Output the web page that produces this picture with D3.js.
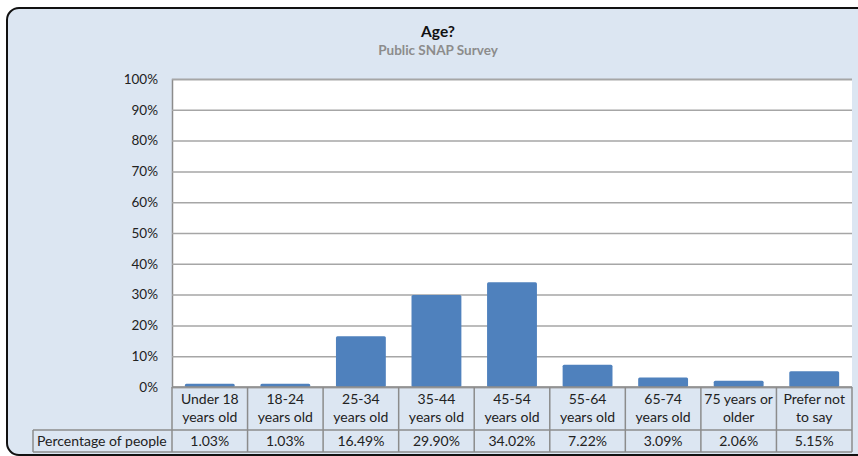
<!DOCTYPE html>
<html><head><meta charset="utf-8">
<script src="https://cdn.jsdelivr.net/npm/d3@7"></script>
<style>body{margin:0;background:#fff;}svg{display:block;}</style>
</head><body>
<script>
const categories = [["Under 18","years old"],["18-24","years old"],["25-34","years old"],["35-44","years old"],["45-54","years old"],["55-64","years old"],["65-74","years old"],["75 years or","older"],["Prefer not","to say"]];
const values = [1.03,1.03,16.49,29.90,34.02,7.22,3.09,2.06,5.15];
const valueLabels = ["1.03%","1.03%","16.49%","29.90%","34.02%","7.22%","3.09%","2.06%","5.15%"];
const yTicks = [0,10,20,30,40,50,60,70,80,90,100];
const seriesName = "Percentage of people";
const title = "Age?";
const subtitle = "Public SNAP Survey";

(function(){
const W = 858, H = 456;
const font = "Lato, 'Liberation Sans', sans-serif";
const svg = d3.select("body").append("svg").attr("width", W).attr("height", H);

svg.append("rect").attr("x",7).attr("y",8).attr("width",880).attr("height",447)
  .attr("rx",12).attr("fill","#dce6f2").attr("stroke","#111").attr("stroke-width",2);

svg.append("text").attr("x",438).attr("y",37).attr("text-anchor","middle")
  .attr("font-family",font).attr("font-weight","bold").attr("font-size",15.5).attr("fill","#111").text(title);
svg.append("text").attr("x",438).attr("y",55).attr("text-anchor","middle")
  .attr("font-family",font).attr("font-weight","bold").attr("font-size",13.5).attr("fill","#8c8c8c").text(subtitle);

const pl = 172, pr = 852, pt = 79, pb = 387;
const x = d3.scaleBand().domain(d3.range(categories.length)).range([pl,pr]).paddingInner(0.34).paddingOuter(0.17);
const xc = d3.scaleBand().domain(d3.range(categories.length)).range([pl,pr]);
const y = d3.scaleLinear().domain([0,100]).range([pb,pt]);

svg.append("rect").attr("x",pl).attr("y",pt).attr("width",pr-pl).attr("height",pb-pt).attr("fill","#fff");

const gy = svg.append("g").attr("transform",`translate(${pl},0)`)
  .call(d3.axisLeft(y).tickValues(yTicks).tickFormat(d=>d+"%").tickSize(-(pr-pl)).tickPadding(14));
gy.select(".domain").attr("stroke","#8c8c8c").attr("stroke-width",1.5);
gy.selectAll(".tick line").attr("stroke","#a6a6a6").attr("stroke-width",1.5);
gy.selectAll(".tick text").attr("font-family",font).attr("font-size",13.5).attr("fill","#222");

svg.append("g").selectAll("rect").data(values).join("rect")
  .attr("x",(d,i)=>x(i)).attr("width",x.bandwidth())
  .attr("y",d=>y(d)).attr("height",d=>y(0)-y(d))
  .attr("rx",1.5).attr("fill","#4f81bd");

const row1b = 430, row2b = 452, labelLeft = 33;
const tg = svg.append("g").attr("stroke","#8c8c8c").attr("stroke-width",1.5).attr("fill","none");
tg.append("line").attr("x1",pl).attr("x2",pr).attr("y1",pb).attr("y2",pb);
tg.append("line").attr("x1",labelLeft).attr("x2",pr).attr("y1",row1b).attr("y2",row1b);
tg.append("line").attr("x1",labelLeft).attr("x2",pr).attr("y1",row2b).attr("y2",row2b);
tg.append("line").attr("x1",labelLeft).attr("x2",labelLeft).attr("y1",row1b).attr("y2",row2b);
tg.selectAll(".v").data(d3.range(categories.length+1)).join("line")
  .attr("x1",i=>i<categories.length?xc(i):pr).attr("x2",i=>i<categories.length?xc(i):pr)
  .attr("y1",pb).attr("y2",row2b);

const cats = svg.append("g").attr("font-family",font).attr("font-size",14).attr("fill","#222").attr("text-anchor","middle");
categories.forEach((c,i)=>{
  c.forEach((line,j)=>{
    cats.append("text").attr("x",xc(i)+xc.bandwidth()/2).attr("y",404+j*18).text(line);
  });
  cats.append("text").attr("x",xc(i)+xc.bandwidth()/2).attr("y",446).text(valueLabels[i]);
});
svg.append("text").attr("x",37).attr("y",446).attr("font-family",font).attr("font-size",14).attr("fill","#222").text(seriesName);
})();
</script>
</body></html>
